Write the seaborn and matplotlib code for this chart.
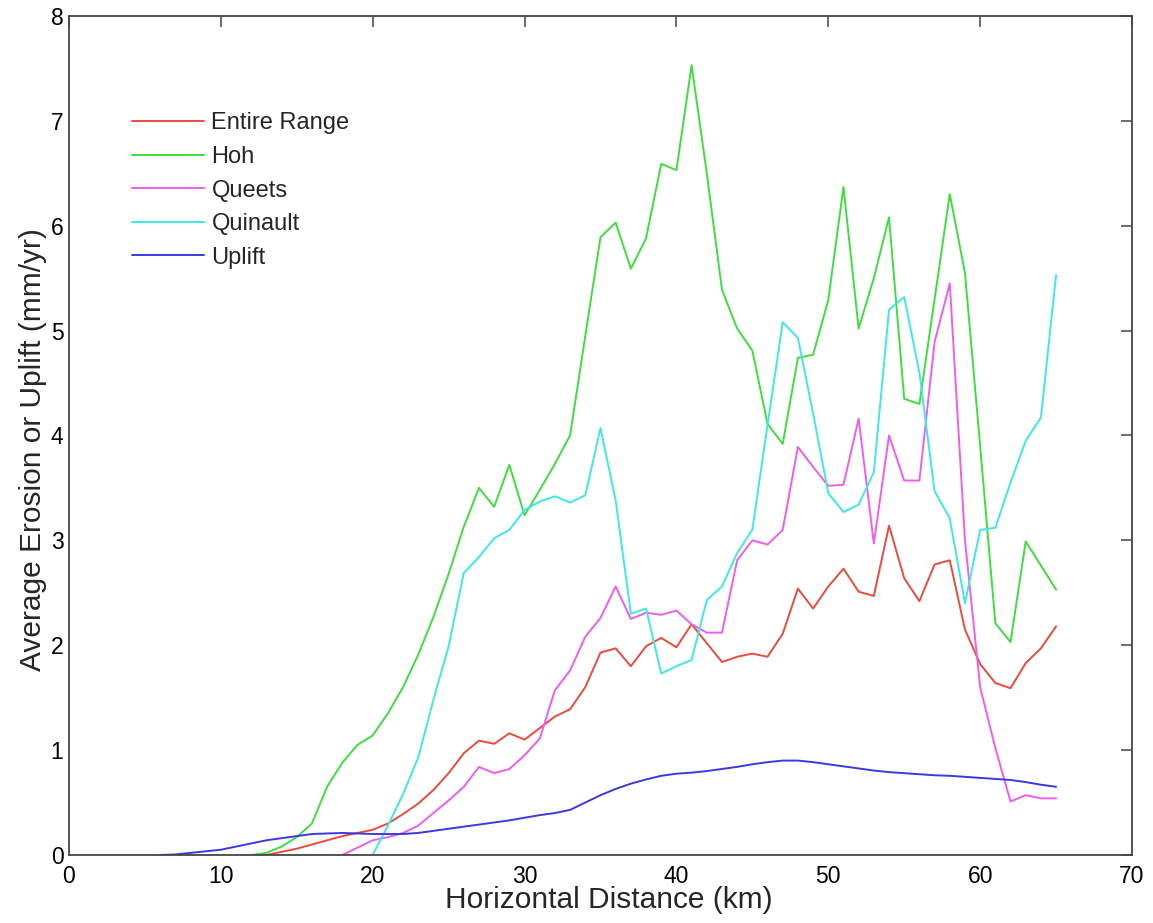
import numpy as np
import pandas as pd
import matplotlib
matplotlib.use("Agg")
import matplotlib.pyplot as plt
import seaborn as sns

# Horizontal distance (km) and average rates (mm/yr) for each series
entire_range_km = [12, 13, 14, 15, 16, 17, 18, 19, 20, 21, 22, 23, 24, 25, 26, 27, 28, 29,
                   30, 31, 32, 33, 34, 35, 36, 37, 38, 39, 40, 41, 42, 43, 44, 45, 46, 47,
                   48, 49, 50, 51, 52, 53, 54, 55, 56, 57, 58, 59, 60, 61, 62, 63, 64, 65]
entire_range = [0.0, 0.0, 0.03, 0.06, 0.10, 0.14, 0.18, 0.21, 0.24, 0.30, 0.39, 0.49, 0.62,
                0.78, 0.97, 1.09, 1.06, 1.16, 1.10, 1.21, 1.32, 1.39, 1.60, 1.93, 1.97, 1.80,
                1.99, 2.07, 1.98, 2.20, 2.02, 1.84, 1.89, 1.92, 1.89, 2.11, 2.54, 2.35, 2.56,
                2.73, 2.51, 2.47, 3.14, 2.64, 2.42, 2.77, 2.81, 2.15, 1.82, 1.64, 1.59, 1.83,
                1.97, 2.18]

hoh_km = [12, 13, 14, 15, 16, 17, 18, 19, 20, 21, 22, 23, 24, 25, 26, 27, 28, 29,
          30, 31, 32, 33, 34, 35, 36, 37, 38, 39, 40, 41, 42, 43, 44, 45, 46, 47,
          48, 49, 50, 51, 52, 53, 54, 55, 56, 57, 58, 59, 60, 61, 62, 63, 64, 65]
hoh = [0.0, 0.02, 0.08, 0.17, 0.30, 0.65, 0.88, 1.05, 1.14, 1.35, 1.60, 1.91, 2.27, 2.68,
       3.13, 3.50, 3.32, 3.72, 3.24, 3.48, 3.73, 4.00, 4.95, 5.89, 6.03, 5.59, 5.88, 6.59,
       6.53, 7.53, 6.50, 5.39, 5.02, 4.81, 4.11, 3.92, 4.74, 4.77, 5.29, 6.37, 5.02, 5.50,
       6.08, 4.35, 4.30, 5.30, 6.30, 5.55, 3.90, 2.21, 2.03, 2.99, 2.76, 2.53]

queets_km = [18, 19, 20, 21, 22, 23, 24, 25, 26, 27, 28, 29, 30, 31, 32, 33, 34, 35,
             36, 37, 38, 39, 40, 41, 42, 43, 44, 45, 46, 47, 48, 49, 50, 51, 52, 53,
             54, 55, 56, 57, 58, 59, 60, 61, 62, 63, 64, 65]
queets = [0.0, 0.07, 0.14, 0.17, 0.21, 0.28, 0.40, 0.52, 0.65, 0.84, 0.78, 0.82, 0.95, 1.11,
          1.57, 1.76, 2.08, 2.26, 2.56, 2.25, 2.31, 2.29, 2.33, 2.20, 2.12, 2.12, 2.81, 3.00,
          2.96, 3.10, 3.89, 3.70, 3.52, 3.53, 4.16, 2.97, 4.00, 3.57, 3.57, 4.89, 5.45, 3.00,
          1.60, 1.02, 0.51, 0.57, 0.54, 0.54]

quinault_km = [20, 21, 22, 23, 24, 25, 26, 27, 28, 29, 30, 31, 32, 33, 34, 35, 36, 37,
               38, 39, 40, 41, 42, 43, 44, 45, 46, 47, 48, 49, 50, 51, 52, 53, 54, 55,
               56, 57, 58, 59, 60, 61, 62, 63, 64, 65]
quinault = [0.0, 0.28, 0.58, 0.93, 1.48, 1.99, 2.69, 2.84, 3.02, 3.10, 3.29, 3.37, 3.42, 3.36,
            3.43, 4.07, 3.38, 2.30, 2.35, 1.73, 1.80, 1.86, 2.43, 2.56, 2.88, 3.10, 4.10, 5.08,
            4.93, 4.21, 3.45, 3.27, 3.34, 3.65, 5.20, 5.32, 4.60, 3.47, 3.21, 2.40, 3.10, 3.12,
            3.55, 3.95, 4.17, 5.53]

uplift_km = [6, 7, 8, 9, 10, 11, 12, 13, 14, 15, 16, 17, 18, 19, 20, 21, 22, 23, 24, 25,
             26, 27, 28, 29, 30, 31, 32, 33, 34, 35, 36, 37, 38, 39, 40, 41, 42, 43, 44, 45,
             46, 47, 48, 49, 50, 51, 52, 53, 54, 55, 56, 57, 58, 59, 60, 61, 62, 63, 64, 65]
uplift = [0.0, 0.005, 0.02, 0.035, 0.05, 0.08, 0.11, 0.14, 0.16, 0.18, 0.20, 0.205, 0.21,
          0.205, 0.20, 0.20, 0.20, 0.21, 0.23, 0.25, 0.27, 0.29, 0.31, 0.33, 0.355, 0.38,
          0.40, 0.43, 0.50, 0.57, 0.63, 0.68, 0.72, 0.755, 0.775, 0.785, 0.80, 0.82, 0.84,
          0.865, 0.885, 0.90, 0.90, 0.885, 0.865, 0.845, 0.825, 0.805, 0.79, 0.78, 0.77,
          0.76, 0.755, 0.745, 0.735, 0.725, 0.715, 0.695, 0.67, 0.65]

series_names = ["Entire Range", "Hoh", "Queets", "Quinault", "Uplift"]
series_colors = ["#ec4a3c", "#3ede3e", "#ef5cef", "#3ee8e8", "#3a3ade"]

frames = []
for name, km, vals in zip(series_names,
                          [entire_range_km, hoh_km, queets_km, quinault_km, uplift_km],
                          [entire_range, hoh, queets, quinault, uplift]):
    frames.append(pd.DataFrame({"distance": km, "rate": vals, "series": name}))
df = pd.concat(frames, ignore_index=True)

sns.set_theme(style="white")
plt.rcParams["font.family"] = ["Liberation Sans", "DejaVu Sans"]

fig = plt.figure(figsize=(11.53, 9.23), dpi=100)
ax = fig.add_axes([0.0598, 0.0737, 0.9220, 0.9090])

sns.lineplot(data=df, x="distance", y="rate", hue="series",
             hue_order=series_names, palette=series_colors,
             estimator=None, sort=False, linewidth=1.4, ax=ax)

ax.set_xlim(0, 70)
ax.set_ylim(0, 8)
ax.set_xticks(range(0, 71, 10))
ax.set_yticks(range(0, 9))
ax.set_xlabel("Horizontal Distance (km)", fontsize=21.5)
ax.set_ylabel("Average Erosion or Uplift (mm/yr)", fontsize=21.5)
ax.xaxis.set_label_coords(0.5075, -0.0375)
ax.yaxis.set_label_coords(-0.021, 0.4827)

frame_color = "#454545"
for side in ["left", "right", "top", "bottom"]:
    ax.spines[side].set_visible(True)
    ax.spines[side].set_color(frame_color)
    ax.spines[side].set_linewidth(1.3)
ax.tick_params(axis="both", which="major", direction="in", length=8, width=1.1,
               color=frame_color, labelsize=16.5, labelcolor="black",
               top=True, right=True)
ax.tick_params(axis="x", pad=7)
ax.tick_params(axis="y", pad=4)

handles, labels = ax.get_legend_handles_labels()
ax.legend(handles, labels, loc="upper left", bbox_to_anchor=(0.059, 0.885),
          frameon=False, fontsize=17, handlelength=3.05, handletextpad=0.33,
          labelspacing=0.49, borderpad=0.0, borderaxespad=0.0)

fig.savefig("out.png", dpi=100)
